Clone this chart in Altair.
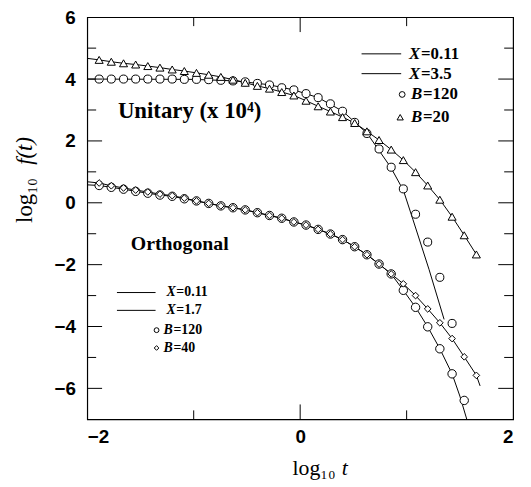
import altair as alt
import pandas as pd

# sampling points (log10 t)
t = [-1.888, -1.774, -1.659, -1.545, -1.431, -1.317, -1.202, -1.088, -0.974, -0.859,
     -0.745, -0.631, -0.516, -0.402, -0.288, -0.173, -0.059, 0.055, 0.169, 0.284,
     0.398, 0.512, 0.627, 0.741, 0.855, 0.969, 1.084, 1.198, 1.312, 1.427, 1.541, 1.655]

# Unitary (shifted by x 10^4)
uni_b120 = [4.00, 4.00, 4.00, 4.00, 4.00, 4.00, 4.00, 3.99, 3.99, 3.98, 3.96, 3.94, 3.91,
            3.86, 3.81, 3.72, 3.65, 3.53, 3.40, 3.20, 2.96, 2.60, 2.24, 1.74, 1.15, 0.45,
            -0.37, -1.27, -2.41, -3.90]
uni_b20 = [4.62, 4.56, 4.51, 4.47, 4.42, 4.37, 4.31, 4.26, 4.20, 4.14, 4.07, 3.98, 3.88,
           3.78, 3.69, 3.58, 3.47, 3.30, 3.12, 2.95, 2.77, 2.58, 2.31, 2.03, 1.72, 1.38,
           0.99, 0.56, 0.10, -0.45, -1.05, -1.67]

# Orthogonal
orth_b120 = [0.56, 0.50, 0.44, 0.37, 0.31, 0.25, 0.21, 0.13, 0.06, -0.02, -0.10, -0.16,
             -0.23, -0.32, -0.41, -0.50, -0.62, -0.72, -0.86, -1.01, -1.19, -1.42, -1.68,
             -1.98, -2.30, -2.83, -3.38, -4.01, -4.72, -5.53, -6.39]
orth_b40 = [0.64, 0.55, 0.48, 0.41, 0.35, 0.28, 0.23, 0.15, 0.06, -0.02, -0.10, -0.16,
            -0.23, -0.32, -0.41, -0.50, -0.62, -0.72, -0.86, -1.01, -1.19, -1.42, -1.68,
            -1.98, -2.30, -2.62, -3.00, -3.43, -3.88, -4.39, -4.98, -5.58]

# theory curves
uni_x011_t = [-2.0] + t + [1.675]
uni_x011_v = [4.67] + uni_b20 + [-1.78]
uni_x35_t = [-2.0, -1.0, -0.6, -0.3, -0.06, 0.17, 0.40, 0.63, 0.85, 0.97, 1.06, 1.21, 1.352]
uni_x35_v = [4.00, 3.99, 3.94, 3.82, 3.65, 3.40, 2.96, 2.24, 1.15, 0.40, -0.55, -2.15, -3.77]
orth_x011_t = [-2.0] + t + [1.69]
orth_x011_v = [0.68] + orth_b40 + [-5.92]
orth_x17_t = [-2.0] + t[:30] + [1.50, 1.565]
orth_x17_v = [0.58] + orth_b120[:30] + [-6.25, -7.0]

x_labels = [-2, 0, 2]
y_labels = [-6, -4, -2, 0, 2, 4, 6]
x_major = [0]
x_minor = [-1, 1]
y_major = [-6, -4, -2, 0, 2, 4]
y_minor = [-5, -3, -1, 1, 3, 5]

W, H = 430, 406
MAJ, MIN = 15, 9

xs = alt.Scale(domain=[-2, 2], nice=False, zero=False)
ys = alt.Scale(domain=[-7, 6], nice=False, zero=False)
xaxis = alt.Axis(values=x_labels, title=None, grid=False, ticks=False, domain=False,
                 labelFont="Liberation Sans", labelFontWeight="bold", labelFontSize=19,
                 labelColor="black", labelPadding=8, format="d")
yaxis = alt.Axis(values=y_labels, title=None, grid=False, ticks=False, domain=False,
                 labelFont="Liberation Sans", labelFontWeight="bold", labelFontSize=19,
                 labelColor="black", labelPadding=12, format="d")


def X(f):
    return alt.X(f, type="quantitative", scale=xs, axis=xaxis)


def Y(f):
    return alt.Y(f, type="quantitative", scale=ys, axis=yaxis)


lines = pd.concat([
    pd.DataFrame({"t": uni_x011_t, "v": uni_x011_v, "s": "u011"}),
    pd.DataFrame({"t": uni_x35_t, "v": uni_x35_v, "s": "u35"}),
    pd.DataFrame({"t": orth_x011_t, "v": orth_x011_v, "s": "o011"}),
    pd.DataFrame({"t": orth_x17_t, "v": orth_x17_v, "s": "o17"}),
])

line_layer = alt.Chart(lines).mark_line(color="black", strokeWidth=1, clip=True).encode(
    x=X("t"), y=Y("v"), detail="s:N")

pt_style = dict(filled=True, fill="white", stroke="black", strokeWidth=1, opacity=1)
uc = alt.Chart(pd.DataFrame({"t": t[:len(uni_b120)], "v": uni_b120})).mark_point(
    shape="circle", size=66, **pt_style).encode(x=X("t"), y=Y("v"))
ut = alt.Chart(pd.DataFrame({"t": t[:len(uni_b20)], "v": uni_b20})).mark_point(
    shape="triangle-up", size=66, **pt_style).encode(x=X("t"), y=Y("v"))
oc = alt.Chart(pd.DataFrame({"t": t[:len(orth_b120)], "v": orth_b120})).mark_point(
    shape="circle", size=72, **pt_style).encode(x=X("t"), y=Y("v"))
od = alt.Chart(pd.DataFrame({"t": t[:len(orth_b40)], "v": orth_b40})).mark_point(
    shape="diamond", size=45, **pt_style).encode(x=X("t"), y=Y("v"))


# inward ticks on all four sides
def xticks(vals, length):
    d = pd.DataFrame({"p": vals})
    b = alt.Chart(d).mark_rule(color="black", strokeWidth=1).encode(
        x=X("p"), y=alt.value(H), y2=alt.value(H - length))
    tp = alt.Chart(d).mark_rule(color="black", strokeWidth=1).encode(
        x=X("p"), y=alt.value(0), y2=alt.value(length))
    return [b, tp]


def yticks(vals, length):
    d = pd.DataFrame({"p": vals})
    lft = alt.Chart(d).mark_rule(color="black", strokeWidth=1).encode(
        y=Y("p"), x=alt.value(0), x2=alt.value(length))
    rgt = alt.Chart(d).mark_rule(color="black", strokeWidth=1).encode(
        y=Y("p"), x=alt.value(W - length), x2=alt.value(W))
    return [lft, rgt]


ticks = xticks(x_major, MAJ) + xticks(x_minor, MIN) + yticks(y_major, MAJ) + yticks(y_minor, MIN)

ann = pd.DataFrame({"a": [0]})


def txt(s, x, y, size, style="normal", weight="bold", font="Liberation Serif",
        align="left", angle=0):
    return alt.Chart(ann).mark_text(text=s, font=font, fontSize=size, fontStyle=style,
                                    fontWeight=weight, align=align, baseline="middle",
                                    angle=angle, color="black").encode(
        x=alt.value(x), y=alt.value(y))


def lrule(x1, x2, y):
    return alt.Chart(ann).mark_rule(color="black", strokeWidth=1).encode(
        x=alt.value(x1), x2=alt.value(x2), y=alt.value(y))


def lsym(shape, x, y, size):
    return alt.Chart(ann).mark_point(shape=shape, size=size, **pt_style).encode(
        x=alt.value(x), y=alt.value(y))


annots = [
    # unitary legend
    lrule(277, 317, 37), lrule(277, 317, 57),
    txt("X", 325, 37, 17, "italic"), txt("=0.11", 337, 37, 17),
    txt("X", 325, 57, 17, "italic"), txt("=3.5", 337, 57, 17),
    lsym("circle", 318, 78, 34), txt("B", 327, 78, 17, "italic"), txt("=120", 339, 78, 17),
    lsym("triangle-up", 316, 101, 40), txt("B", 327, 101, 17, "italic"), txt("=20", 339, 101, 17),
    # orthogonal legend
    lrule(30, 69, 278), lrule(30, 69, 296),
    txt("X", 80, 278, 14, "italic"), txt("=0.11", 90, 278, 14),
    txt("X", 80, 296, 14, "italic"), txt("=1.7", 90, 296, 14),
    lsym("circle", 70, 316, 24), txt("B", 77, 316, 14, "italic"), txt("=120", 87, 316, 14),
    lsym("diamond", 70, 334, 22), txt("B", 77, 334, 14, "italic"), txt("=40", 87, 334, 14),
    # group labels
    txt("Unitary (x 10\u2074)", 31, 95, 23),
    txt("Orthogonal", 44, 229, 20),
    # axis titles
    txt("log\u2081\u2080", 229, 455, 22, weight="normal", align="center"),
    txt("t", 260, 455, 22, style="italic", weight="normal", align="center"),
    txt("log\u2081\u2080", -63, 185, 23, weight="normal", align="center", angle=270),
    txt("f(t)", -63, 135, 23, style="italic", weight="normal", align="center", angle=270),
]

chart = alt.layer(line_layer, uc, ut, oc, od, *ticks, *annots).properties(
    width=W, height=H,
    autosize=alt.AutoSizeParams(type="none"),
    padding={"left": 80, "top": 7, "right": 10, "bottom": 60},
).configure_view(stroke="black", strokeWidth=1.2)

chart.save("out.html", embed_options={"renderer": "svg", "actions": False})
